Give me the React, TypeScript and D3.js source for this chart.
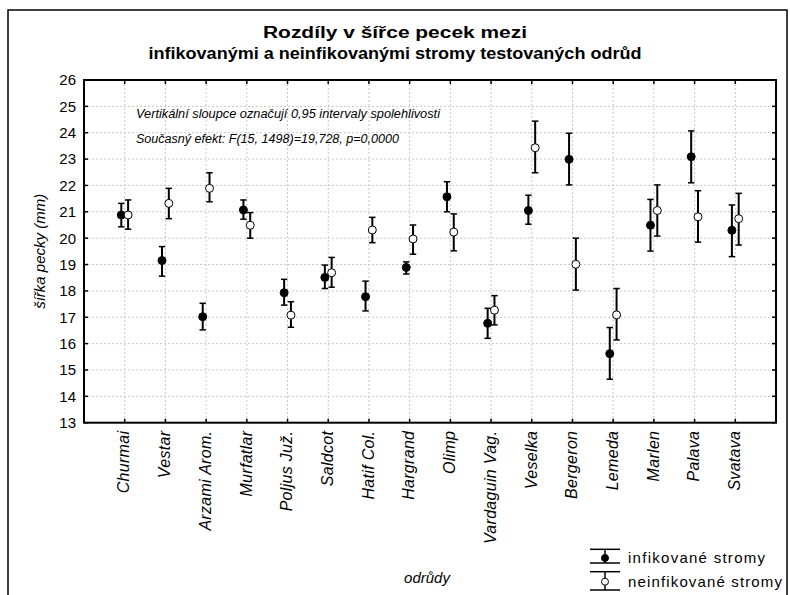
import React from "react";
import * as d3 from "d3";

const categories = ["Churmai", "Vestar", "Arzami Arom.", "Murfatlar", "Poljus Juž.", "Saldcot", "Hatif Col.", "Hargrand", "Olimp", "Vardaguin Vag.", "Veselka", "Bergeron", "Lemeda", "Marlen", "Palava", "Svatava"];
const infMean = [20.88, 19.15, 17.02, 21.07, 17.93, 18.51, 17.78, 18.89, 21.57, 16.77, 21.05, 22.99, 15.62, 20.49, 23.09, 20.30];
const infLow = [20.43, 18.56, 16.52, 20.72, 17.46, 18.09, 17.24, 18.64, 21.0, 16.2, 20.53, 22.02, 14.65, 19.51, 22.10, 19.30];
const infHigh = [21.32, 19.68, 17.53, 21.45, 18.44, 18.98, 18.37, 19.1, 22.14, 17.34, 21.63, 23.98, 16.61, 21.47, 24.07, 21.26];
const nonMean = [20.88, 21.32, 21.89, 20.49, 17.08, 18.69, 20.31, 19.97, 20.23, 17.27, 23.43, 19.01, 17.09, 21.05, 20.81, 20.74];
const nonLow = [20.34, 20.74, 21.38, 20.0, 16.62, 18.14, 19.83, 19.39, 19.52, 16.71, 22.48, 18.03, 16.14, 20.08, 19.85, 19.74];
const nonHigh = [21.45, 21.89, 22.48, 20.97, 17.59, 19.27, 20.79, 20.50, 20.92, 17.82, 24.44, 20.0, 18.09, 22.02, 21.80, 21.70];
const yTicks = [13, 14, 15, 16, 17, 18, 19, 20, 21, 22, 23, 24, 25, 26];
const titleLines = ["Rozdíly v  šířce pecek mezi", "infikovanými a neinfikovanými stromy testovaných odrůd"];
const notes = ["Vertikální sloupce označují 0,95 intervaly spolehlivosti", "Současný efekt: F(15, 1498)=19,728, p=0,0000"];
const seriesNames = ["infikované stromy", "neinfikované stromy"];

const FONT = "'Liberation Sans', Arial, sans-serif";
const titleWidths = [264, 493];
const noteWidths = [304, 263];
const legendWidths = [137, 154];

export default function App() {
  const L = 84, R = 776, T = 80, B = 422.7;
  const x = d3.scaleLinear().domain([-1, categories.length]).range([L, R]);
  const y = d3.scaleLinear().domain([13, 26]).range([B, T]);
  const off = 3.4;
  const cap = 3.2;

  const series = [
    { mean: infMean, low: infLow, high: infHigh, dx: -off, fill: "#000" },
    { mean: nonMean, low: nonLow, high: nonHigh, dx: off, fill: "#fff" },
  ];

  return (
    <svg width={790} height={595} style={{ position: "absolute", left: 0, top: 0, background: "#fff" }}>
      <rect x={8} y={10} width={779} height={600} fill="none" stroke="#000" strokeWidth={1.5} />
      {titleLines.map((t, i) => (
        <text key={i} x={395} y={38 + i * 21} textAnchor="middle" fontFamily={FONT} fontWeight="bold" fontSize={16} textLength={titleWidths[i]} lengthAdjust="spacingAndGlyphs" fill="#000">{t}</text>
      ))}
      {yTicks.slice(1, -1).map((v) => (
        <line key={"gy" + v} x1={L} x2={R} y1={y(v)} y2={y(v)} stroke="#c8c8c8" strokeDasharray="2,2" strokeWidth={1} />
      ))}
      {categories.map((c, i) => (
        <line key={"gx" + i} x1={x(i)} x2={x(i)} y1={T} y2={B} stroke="#c8c8c8" strokeDasharray="2,2" strokeWidth={1} />
      ))}
      {yTicks.map((v) => (
        <g key={"yt" + v}>
          <line x1={L} x2={L + 4} y1={y(v)} y2={y(v)} stroke="#000" strokeWidth={1.5} />
          <line x1={R} x2={R - 4} y1={y(v)} y2={y(v)} stroke="#000" strokeWidth={1.5} />
          <text x={76} y={y(v)} dy="0.36em" textAnchor="end" fontFamily={FONT} fontSize={15} fill="#000">{v}</text>
        </g>
      ))}
      {categories.map((c, i) => (
        <g key={"xt" + i}>
          <line x1={x(i)} x2={x(i)} y1={T} y2={T + 4} stroke="#000" strokeWidth={1.5} />
          <line x1={x(i)} x2={x(i)} y1={B} y2={B - 4} stroke="#000" strokeWidth={1.5} />
          <text transform={`translate(${x(i) - 1},${B + 8}) rotate(-90)`} dy="0.36em" textAnchor="end" fontFamily={FONT} fontStyle="italic" fontSize={16} letterSpacing={0.3} fill="#000">{c}</text>
        </g>
      ))}
      <rect x={L} y={T} width={R - L} height={B - T} fill="none" stroke="#000" strokeWidth={2} />
      {notes.map((t, i) => (
        <text key={"n" + i} x={136} y={114 + i * 25} dy="0.36em" fontFamily={FONT} fontStyle="italic" fontSize={12} textLength={noteWidths[i]} lengthAdjust="spacingAndGlyphs" fill="#000">{t}</text>
      ))}
      {series.map((s, si) => (
        <g key={"s" + si}>
          {categories.map((c, i) => {
            const cx = x(i) + s.dx;
            return (
              <g key={i}>
                <line x1={cx} x2={cx} y1={y(s.low[i])} y2={y(s.high[i])} stroke="#000" strokeWidth={2} />
                <line x1={cx - cap} x2={cx + cap} y1={y(s.low[i])} y2={y(s.low[i])} stroke="#000" strokeWidth={1.5} />
                <line x1={cx - cap} x2={cx + cap} y1={y(s.high[i])} y2={y(s.high[i])} stroke="#000" strokeWidth={1.5} />
                <circle cx={cx} cy={y(s.mean[i])} r={4} fill={s.fill} stroke="#000" strokeWidth={1} />
              </g>
            );
          })}
        </g>
      ))}
      <text transform={`translate(40,${(T + B) / 2}) rotate(-90)`} dy="0.36em" textAnchor="middle" fontFamily={FONT} fontStyle="italic" fontSize={15} fill="#000">šířka pecky (mm)</text>
      <text x={427} y={578} dy="0.36em" textAnchor="middle" fontFamily={FONT} fontStyle="italic" fontSize={15} fill="#000">odrůdy</text>
      {seriesNames.map((n, i) => {
        const top = i === 0 ? 549.3 : 571.7;
        const bot = i === 0 ? 563 : 590;
        const cy = i === 0 ? 558 : 581.7;
        return (
          <g key={"lg" + i}>
            <line x1={590} x2={620} y1={top} y2={top} stroke="#000" strokeWidth={1.5} />
            <line x1={590} x2={620} y1={bot} y2={bot} stroke="#000" strokeWidth={1.5} />
            <line x1={605} x2={605} y1={top} y2={bot} stroke="#000" strokeWidth={1.5} />
            <circle cx={605} cy={cy} r={3.5} fill={series[i].fill} stroke="#000" strokeWidth={1} />
            <text x={628} y={cy} dy="0.36em" fontFamily={FONT} fontSize={15} textLength={legendWidths[i]} lengthAdjust="spacing" fill="#000">{n}</text>
          </g>
        );
      })}
    </svg>
  );
}
